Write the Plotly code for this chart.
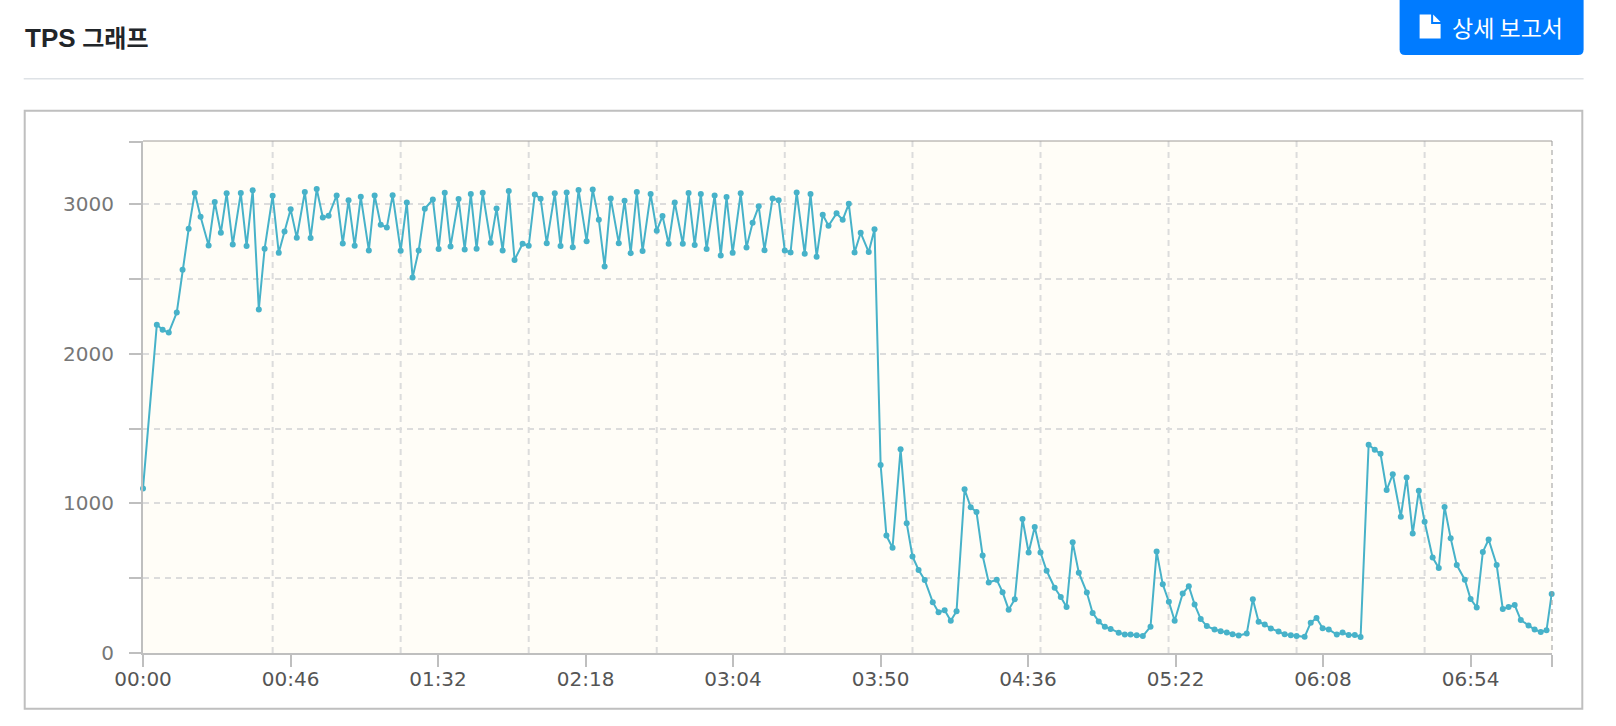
import plotly.graph_objects as go

W, H = 1616, 726
L, R, T, B = 143.3, 1552.4, 141.3, 652.7

chart_title_latin = "TPS"
chart_title_korean = "그래프"
button_label = "상세 보고서"

elapsed_seconds = [
    0, 4.3, 6.1, 8.0, 10.5, 12.3, 14.2, 16.1, 17.9, 20.4, 22.3, 24.2, 26.0, 27.9, 30.4, 32.2, 34.1, 36.0, 37.8,
    40.3, 42.2, 44.0, 45.9, 47.8, 50.3, 52.1, 54.0, 55.9, 57.7, 60.2, 62.1, 63.9, 65.8, 67.7, 70.2, 72.0, 73.9, 75.8, 77.6,
    80.1, 82.0, 83.8, 85.7, 87.6, 90.1, 91.9, 93.8, 95.6, 98.1, 100.0, 101.9, 103.7, 105.6, 108.1, 109.9, 111.8, 113.7, 115.5,
    118.0, 119.9, 121.8, 123.6, 125.5, 128.0, 129.8, 131.7, 133.6, 135.4, 137.9, 139.8, 141.7, 143.5, 145.4, 147.9, 149.7, 151.6, 153.5, 155.3,
    157.8, 159.7, 161.5, 163.4, 165.3, 167.8, 169.6, 171.5, 173.4, 175.2, 177.7, 179.6, 181.4, 183.3, 185.8, 187.6, 189.5, 191.4, 193.2,
    195.7, 197.6, 199.5, 201.3, 203.2, 205.7, 207.5, 209.4, 211.3, 213.1, 215.6, 217.5, 219.4, 221.2, 223.1, 225.6, 227.4,
    229.3, 231.1, 233.0, 235.5, 237.4, 239.2, 241.1, 243.0, 245.5, 247.3, 249.2, 251.1, 252.9, 255.4, 257.3, 259.1, 261.0, 262.9,
    265.4, 267.2, 269.1, 271.0, 273.4, 275.3, 277.2, 279.0, 280.9, 283.4, 285.3, 287.1, 289.0, 290.9, 293.4, 295.2, 297.1, 299.0, 300.8,
    303.3, 305.2, 307.0, 308.9, 310.8, 313.2, 315.1, 317.0, 318.9, 320.7, 323.2, 325.1, 326.9, 328.8, 330.7, 333.1, 335.0, 336.9, 338.7, 340.6,
    343.1, 345.0, 346.8, 348.7, 350.6, 353.0, 354.9, 356.8, 358.6, 361.1, 363.0, 364.8, 366.7, 368.6, 371.1, 372.9, 374.8, 376.7, 378.5,
    381.0, 382.9, 384.7, 386.6, 388.5, 391.0, 392.8, 394.7, 396.6, 398.4, 400.9, 402.8, 404.6, 406.5, 408.4, 410.9, 412.7, 414.6, 416.5, 418.3,
    420.8, 422.7, 424.5, 426.4, 428.3, 430.7, 432.6, 434.5, 436.3, 437.9,
]

tps = [
    1100, 2196, 2161, 2143, 2277, 2563, 2837, 3076, 2917, 2725, 3016, 2810, 3074, 2732, 3076, 2721, 3094, 2297, 2703,
    3058, 2676, 2819, 2967, 2777, 3083, 2775, 3103, 2913, 2924, 3060, 2739, 3027, 2723, 3051, 2692, 3060, 2864, 2846, 3062,
    2690, 3013, 2511, 2692, 2971, 3033, 2701, 3078, 2719, 3036, 2699, 3069, 2703, 3078, 2743, 2973, 2692, 3089, 2629,
    2737, 2723, 3067, 3038, 2741, 3074, 2721, 3080, 2714, 3096, 2754, 3100, 2897, 2585, 3040, 2741, 3025, 2674, 3083, 2688,
    3069, 2824, 2922, 2737, 3013, 2737, 3076, 2728, 3069, 2701, 3060, 2659, 3049, 2676, 3074, 2712, 2877, 2987, 2694,
    3040, 3027, 2692, 2679, 3080, 2670, 3069, 2650, 2931, 2857, 2940, 2897, 3004, 2679, 2810, 2681, 2833,
    1258, 785, 704, 1362, 868, 646, 555, 488, 340, 272, 286, 216, 279, 1095, 975, 943, 652, 472,
    490, 407, 290, 360, 896, 672, 842, 672, 550, 436, 375, 308, 740, 537, 404, 268, 211, 175, 161,
    136, 124, 124, 118, 113, 176, 678, 459, 343, 216, 398, 446, 325, 227, 180, 157, 146, 137, 126, 117,
    130, 360, 209, 191, 164, 144, 126, 119, 114, 108, 203, 234, 166, 157, 123, 137, 121, 121, 107,
    1393, 1359, 1332, 1090, 1195, 912, 1174, 799, 1085, 878, 638, 568, 977, 768, 588, 490, 361, 305, 676, 759,
    588, 295, 307, 321, 220, 184, 157, 141, 152, 395,
]

x_tick_values = [0, 45.9, 91.7, 137.6, 183.4, 229.3, 275.1, 321.0, 366.8, 412.7, 438]
x_tick_labels = ["00:00", "00:46", "01:32", "02:18", "03:04", "03:50", "04:36", "05:22", "06:08", "06:54", ""]
x_grid_values = [40.3, 80.1, 119.9, 159.7, 199.5, 239.2, 279.0, 318.8, 358.6, 398.4]
y_tick_values = [0, 500, 1000, 1500, 2000, 2500, 3000]
y_tick_labels = ["0", "", "1000", "", "2000", "", "3000"]
y_top_tick = [3416]
X_MAX, Y_MAX = 438, 3424

LINE = "#47b2c9"
GRID = "#dcdcdc"
AXIS = "#bfbfbf"
GRID_DASH = "6px,5px"


def px(x):
    return (x - L) / (R - L)


def py(y):
    return (B - y) / (B - T)


def path(points, close=True):
    s = "M" + " L".join(f"{px(x):.5f},{py(y):.5f}" for x, y in points)
    return s + (" Z" if close else "")


shapes = []
for g in x_grid_values:
    shapes.append(dict(type="line", xref="x", yref="paper", x0=g, x1=g, y0=0, y1=1, layer="below",
                       line=dict(color=GRID, width=2, dash=GRID_DASH)))


def paper_rect(x0, y0, x1, y1, **kw):
    return dict(type="rect", xref="paper", yref="paper", x0=px(x0), x1=px(x1), y0=py(y0), y1=py(y1), **kw)


def paper_line(x0, y0, x1, y1, **kw):
    return dict(type="line", xref="paper", yref="paper", x0=px(x0), x1=px(x1), y0=py(y0), y1=py(y1), **kw)


shapes += [
    paper_line(L, T, R, T, line=dict(color="#a09c98", width=1)),
    paper_line(R, T, R, B, line=dict(color="#9a9a9a", width=1, dash="5px,4px")),
    paper_line(24, 79, 1584, 79, line=dict(color="#dee2e6", width=1.5)),
    paper_rect(25, 111, 1582.7, 708.5, line=dict(color=AXIS, width=2), fillcolor="rgba(0,0,0,0)"),
    dict(type="path", xref="paper", yref="paper", fillcolor="#007bff", line=dict(width=0),
         path=f"M{px(1400):.5f},{py(-6):.5f} L{px(1584):.5f},{py(-6):.5f} L{px(1584):.5f},{py(50):.5f} "
              f"Q{px(1584):.5f},{py(55.5):.5f} {px(1578.5):.5f},{py(55.5):.5f} L{px(1405.5):.5f},{py(55.5):.5f} "
              f"Q{px(1400):.5f},{py(55.5):.5f} {px(1400):.5f},{py(50):.5f} Z"),
    dict(type="path", xref="paper", yref="paper", fillcolor="white", line=dict(width=0),
         path=path([(1420, 15), (1431.5, 15), (1431.5, 24.5), (1441, 24.5), (1441, 39), (1420, 39)])),
    dict(type="path", xref="paper", yref="paper", fillcolor="white", line=dict(width=0),
         path=path([(1433.5, 15), (1441, 22.5), (1433.5, 22.5)])),
]

title_text = (f'<b><span style="font-size:26px">{chart_title_latin}</span> '
              f'{chart_title_korean}</b>')

annotations = [
    dict(text=title_text, xref="paper", yref="paper", x=px(23), y=py(38.5), xanchor="left", yanchor="middle",
         showarrow=False, font=dict(family="Liberation Sans, Noto Sans CJK KR", size=24, color="#212529")),
    dict(text=button_label, xref="paper", yref="paper", x=px(1508), y=py(27.5), xanchor="center", yanchor="middle",
         showarrow=False, font=dict(family="Noto Sans CJK KR", size=23, color="white")),
]

fig = go.Figure(go.Scatter(
    x=elapsed_seconds, y=tps, mode="lines+markers",
    line=dict(color=LINE, width=2),
    marker=dict(color=LINE, size=6),
    cliponaxis=False,
))

fig.update_layout(
    width=W, height=H, showlegend=False,
    margin=dict(l=L, r=W - R, t=T, b=H - B, pad=0, autoexpand=False),
    paper_bgcolor="white", plot_bgcolor="#fffdf7",
    shapes=shapes, annotations=annotations,
    font=dict(family="DejaVu Sans"),
    xaxis=dict(
        range=[0, X_MAX], tickmode="array", tickvals=x_tick_values, ticktext=x_tick_labels,
        showgrid=False, zeroline=False, showline=True, linecolor=AXIS, linewidth=2,
        ticks="outside", ticklen=12, tickwidth=2, tickcolor=AXIS, ticklabelstandoff=-5,
        tickfont=dict(size=20, color="#555555", family="DejaVu Sans"),
    ),
    yaxis=dict(
        range=[0, Y_MAX], tickmode="array", tickvals=y_tick_values, ticktext=y_tick_labels,
        showgrid=True, gridcolor=GRID, gridwidth=2, griddash=GRID_DASH,
        zeroline=False, showline=True, linecolor=AXIS, linewidth=2,
        ticks="outside", ticklen=12, tickwidth=2, tickcolor=AXIS, ticklabelstandoff=11,
        tickfont=dict(size=20, color="#777777", family="DejaVu Sans"),
        minor=dict(tickmode="array", tickvals=y_top_tick, ticks="outside", ticklen=12, tickwidth=2,
                   tickcolor=AXIS, showgrid=False),
    ),
)

fig.write_html("out.html", config=dict(displayModeBar=False),
               post_script="document.body.style.margin='0';document.body.style.overflow='hidden';")
